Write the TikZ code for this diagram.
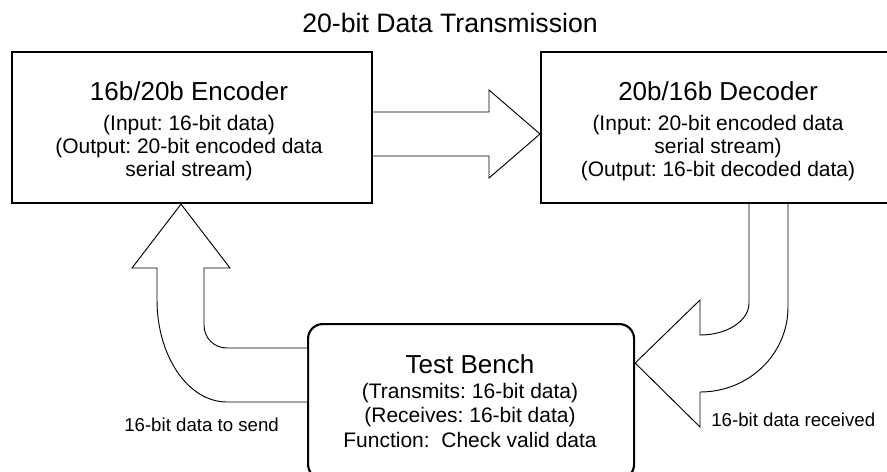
\documentclass[tikz,border=0pt]{standalone}
\usepackage{fontspec}
\setmainfont{Liberation Sans}
\frenchspacing
\begin{document}
\frenchspacing
\begin{tikzpicture}[x=0.75pt,y=-0.75pt,
  box/.style={draw, line width=1.6pt, fill=white, inner sep=0pt, minimum width=270pt, minimum height=113.25pt, anchor=north west},
  blockarrow/.style={draw, line width=0.7pt, fill=white, line join=miter},
  ttl/.style={font=\fontsize{20}{24}\selectfont, inner sep=0pt, anchor=base},
  head/.style={font=\fontsize{19.5}{23}\selectfont, inner sep=0pt, anchor=base},
  body/.style={font=\fontsize{15.75}{19}\selectfont, inner sep=0pt, anchor=base},
  lbl/.style={font=\fontsize{14}{17}\selectfont, inner sep=0pt, anchor=base west}]
\useasboundingbox (0,0) rectangle (887,471);
\clip (0,0) rectangle (887,471);
% boxes
\node[box] (enc) at (11,51) {};
\node[box] (dec) at (540,51) {};
\node[box, rounded corners=11pt, minimum width=244.5pt, minimum height=116.25pt] (tb) at (307,323) {};
% block arrows
\draw[blockarrow] (enc.east |- 0,112) -- (489,112) -- (489,90) -- (dec.west |- 0,134)
  -- (489,178) -- (489,156) -- (enc.east |- 0,156);
\draw[blockarrow] (tb.west |- 0,348) -- (227,348) .. controls (214,348) and (204,338) .. (204,325)
  -- (204,268) -- (230,268) -- (enc.south -| 181,0) -- (132,268) -- (157,268) -- (157,300)
  .. controls (157,356) and (188,402) .. (227,402) -- (tb.west |- 0,402);
\draw[blockarrow] (dec.south -| 749,0) -- (749,303) .. controls (749,321) and (727,335) .. (700,335)
  -- (700,300) -- (tb.east |- 0,363) -- (700,427) -- (700,392)
  .. controls (749,392) and (788,354) .. (788,307) -- (dec.south -| 788,0);
% texts
\node[ttl] (title) at (450,32) {20-bit Data Transmission};
\node[head] (enc1) at (189,100) {16b/20b Encoder};
\node[body] (enc2) at (189,130) {(Input: 16-bit data)};
\node[body] (enc3) at (189,153) {(Output: 20-bit encoded data};
\node[body] (enc4) at (189,176) {serial stream)};
\node[head] (dec1) at (718,100) {20b/16b Decoder};
\node[body] (dec2) at (718,130) {(Input: 20-bit encoded data};
\node[body] (dec3) at (718,153) {serial stream)};
\node[body] (dec4) at (718,176) {(Output: 16-bit decoded data)};
\node[head] (tb1) at (470,373) {Test Bench};
\node[body] (tb2) at (470,398) {(Transmits: 16-bit data)};
\node[body] (tb3) at (470,422) {(Receives: 16-bit data)};
\node[body] (tb4) at (470,447) {Function:\ \ Check valid data};
\node[lbl] (lsend) at (124,431) {16-bit data to send};
\node[lbl] (lrecv) at (711,426) {16-bit data received};
\end{tikzpicture}
\end{document}
